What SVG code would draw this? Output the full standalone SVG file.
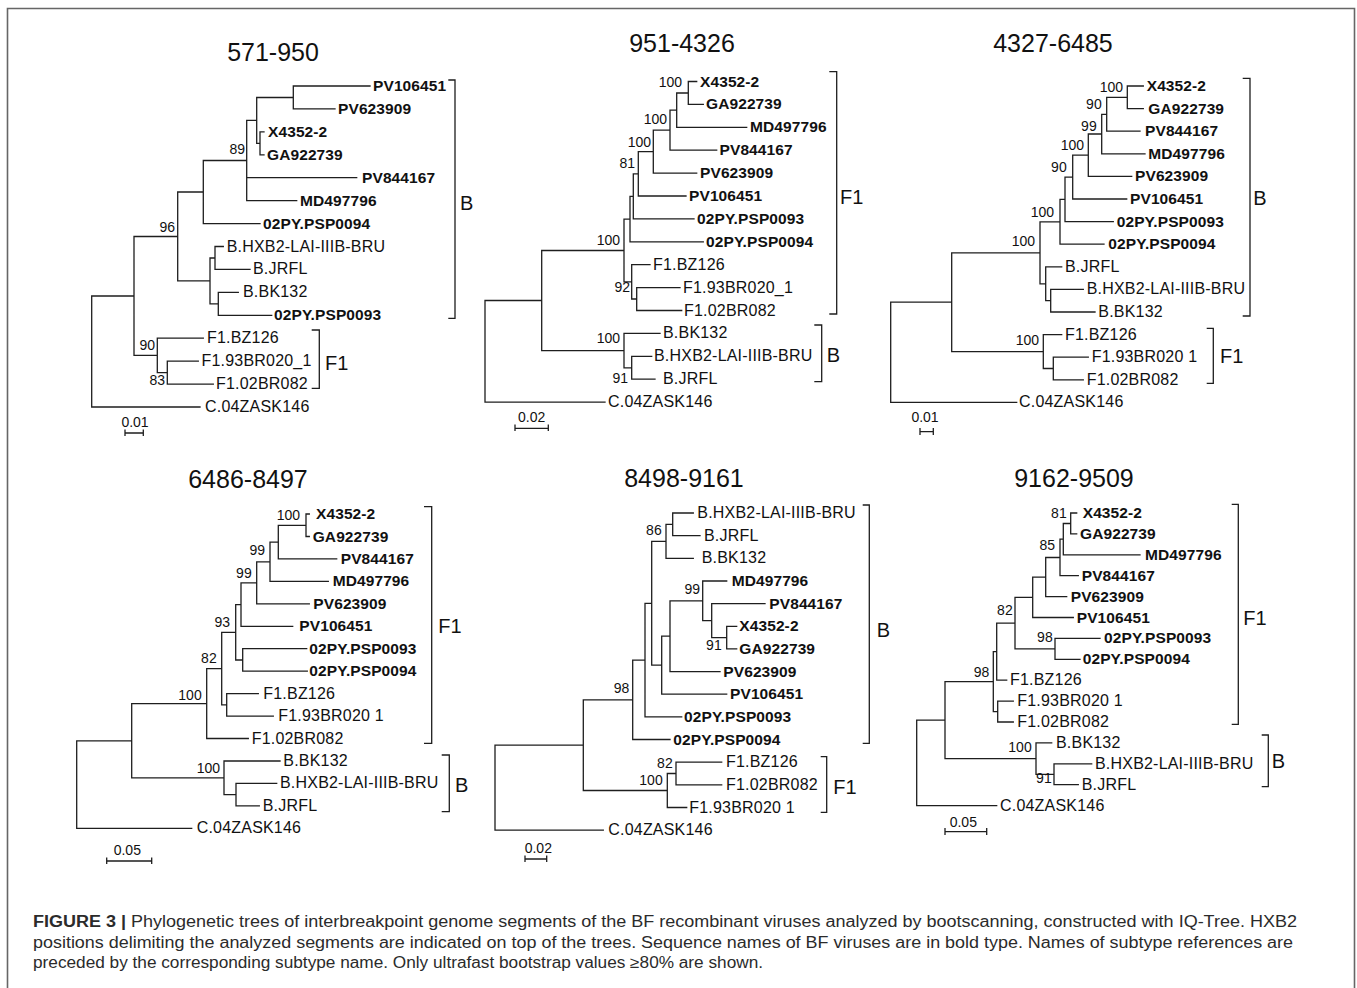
<svg xmlns="http://www.w3.org/2000/svg" width="1357" height="988" viewBox="0 0 1357 988">
<style>
.bg{fill:#fff}
.frame{fill:none;stroke:#666;stroke-width:1.6}
.br{fill:none;stroke:#1e1e1e;stroke-width:1.3;stroke-linecap:square}
.bk{fill:none;stroke:#1e1e1e;stroke-width:1.3}
text{font-family:"Liberation Sans",Arial,sans-serif;fill:#111}
.tt{font-size:25px;text-anchor:middle}
.lb{font-size:16px;letter-spacing:0.2px}
.bd{font-size:15.5px;font-weight:bold;letter-spacing:0.1px}
.bs{font-size:14px;text-anchor:end}
.cl{font-size:20px}
.sc{font-size:14px;text-anchor:middle}
.cap{font-size:16px;fill:#2b2b2b}
.capb{font-weight:bold}
</style>
<rect class="bg" x="0" y="0" width="1357" height="988"/>
<path class="frame" d="M7.5 990 V8.5 H1354.5 V990"/>

<!-- Tree 1: 571-950 -->
<g id="tree-571-950">
<text class="tt" x="273" y="61">571-950</text>
<g id="t1-connectors">
<path class="br" d="M370 86 H293.3 V108.9 H335 M264 131.9 H260 V154.8 H264 M293.3 97.5 H256.7 V143.4 H260 M256.7 120.4 H246.7 V200.6 H296.7 M246.7 177.7 H356.7 M246.7 160.5 H203.3 V223.6 H260 M223.3 246.5 H215 V269.4 H250 M238.3 292.4 H218.3 V315.3 H271.7 M215 258 H210 V303.8 H218.3 M203.3 192 H177.7 V280.9 H210 M198.3 361.2 H167.3 V384.1 H213.3 M203.3 338.2 H157.3 V372.6 H167.3 M177.7 236.5 H134 V355.4 H157.3 M134 296 H91.7 V407 H200"/>
<path class="bk" d="M448.3 80 H455 V318.3 H448.3 M311.7 330 H319.3 V388.3 H311.7"/>
<path class="bk" d="M125 429.5 V436 M125 433 H143.3 M143.3 429.5 V436"/>
</g>
<g id="t1-labels">
<text class="bd" x="373" y="91">PV106451</text>
<text class="bd" x="338" y="113.9">PV623909</text>
<text class="bd" x="268" y="136.9">X4352-2</text>
<text class="bd" x="267" y="159.8">GA922739</text>
<text class="bd" x="362" y="182.7">PV844167</text>
<text class="bd" x="300" y="205.6">MD497796</text>
<text class="bd" x="263" y="228.6">02PY.PSP0094</text>
<text class="lb" x="226.7" y="251.5">B.HXB2-LAI-IIIB-BRU</text>
<text class="lb" x="253" y="274.4">B.JRFL</text>
<text class="lb" x="243" y="297.4">B.BK132</text>
<text class="bd" x="274" y="320.3">02PY.PSP0093</text>
<text class="lb" x="207" y="343.2">F1.BZ126</text>
<text class="lb" x="201.5" y="366.2">F1.93BR020_1</text>
<text class="lb" x="216" y="389.1">F1.02BR082</text>
<text class="lb" x="205" y="412">C.04ZASK146</text>
<text class="bs" x="245" y="154">89</text>
<text class="bs" x="175" y="232">96</text>
<text class="bs" x="155" y="350">90</text>
<text class="bs" x="165" y="384.5">83</text>
<text class="cl" x="460" y="210">B</text>
<text class="cl" x="325" y="370">F1</text>
<text class="sc" x="135" y="427">0.01</text>
</g>
</g>

<!-- Tree 2: 951-4326 -->
<g id="tree-951-4326">
<text class="tt" x="682" y="52">951-4326</text>
<g id="t2-connectors">
<path class="br" d="M696.7 81.5 H688.3 V104.4 H703.3 M688.3 93 H676.7 V127.3 H746.7 M676.7 110.2 H670 V150.2 H716.7 M670 130.2 H653.3 V173.1 H696.7 M653.3 151.7 H638.3 V196 H686 M638.3 173.8 H633.3 V218.9 H694 M633.3 196.4 H630 V241.8 H703.3 M680 287.6 H636.7 V310.5 H681.7 M650 264.7 H631.7 V299 H636.7 M630 219.1 H624 V281.9 H631.7 M651.7 356.3 H631.7 V379.2 H655 M660 333.4 H624 V367.8 H631.7 M624 250.5 H541.7 V350.6 H624 M541.7 300.5 H485 V402.1 H605"/>
<path class="bk" d="M829.3 71.7 H836.7 V314 H829.3 M814.3 325 H821.7 V381.7 H814.3"/>
<path class="bk" d="M515 424.5 V431 M515 428.3 H548.3 M548.3 424.5 V431"/>
</g>
<g id="t2-labels">
<text class="bd" x="700" y="86.5">X4352-2</text>
<text class="bd" x="706" y="109.4">GA922739</text>
<text class="bd" x="750" y="132.3">MD497796</text>
<text class="bd" x="719.5" y="155.2">PV844167</text>
<text class="bd" x="700" y="178.1">PV623909</text>
<text class="bd" x="689" y="201">PV106451</text>
<text class="bd" x="697" y="223.9">02PY.PSP0093</text>
<text class="bd" x="706" y="246.8">02PY.PSP0094</text>
<text class="lb" x="653" y="269.7">F1.BZ126</text>
<text class="lb" x="683" y="292.6">F1.93BR020_1</text>
<text class="lb" x="684" y="315.5">F1.02BR082</text>
<text class="lb" x="663" y="338.4">B.BK132</text>
<text class="lb" x="654" y="361.3">B.HXB2-LAI-IIIB-BRU</text>
<text class="lb" x="663" y="384.2">B.JRFL</text>
<text class="lb" x="608" y="407.1">C.04ZASK146</text>
<text class="bs" x="682" y="87">100</text>
<text class="bs" x="667" y="123.5">100</text>
<text class="bs" x="651" y="146.5">100</text>
<text class="bs" x="635" y="168">81</text>
<text class="bs" x="620" y="245">100</text>
<text class="bs" x="630" y="292">92</text>
<text class="bs" x="620" y="343">100</text>
<text class="bs" x="628" y="383">91</text>
<text class="cl" x="840" y="204">F1</text>
<text class="cl" x="826.7" y="362">B</text>
<text class="sc" x="531.7" y="422">0.02</text>
</g>
</g>

<!-- Tree 3: 4327-6485 -->
<g id="tree-4327-6485">
<text class="tt" x="1053" y="52">4327-6485</text>
<g id="t3-connectors">
<path class="br" d="M1143.3 86 H1127.3 V108.6 H1143.3 M1127.3 97.3 H1106.7 V131.2 H1140 M1106.7 114.3 H1101.7 V153.8 H1145 M1101.7 134 H1088.3 V176.4 H1131.7 M1088.3 155.2 H1072.7 V199 H1126.7 M1072.7 177.1 H1065 V221.6 H1113.3 M1065 199.4 H1060 V244.2 H1104 M1083.3 289.4 H1050.7 V312 H1095 M1061.7 266.8 H1045.7 V300.7 H1050.7 M1060 221.8 H1040 V283.8 H1045.7 M1088.3 357.2 H1053.3 V379.8 H1083.3 M1061.7 334.6 H1043.3 V368.5 H1053.3 M1040 252.8 H951.7 V351.6 H1043.3 M951.7 302.2 H890.7 V402.4 H1016.7"/>
<path class="bk" d="M1242.7 78.3 H1250 V316 H1242.7 M1206.7 328.3 H1213.3 V383.3 H1206.7"/>
<path class="bk" d="M920 428 V435 M920 431.7 H933.3 M933.3 428 V435"/>
</g>
<g id="t3-labels">
<text class="bd" x="1146.7" y="91">X4352-2</text>
<text class="bd" x="1148.3" y="113.6">GA922739</text>
<text class="bd" x="1145" y="136.2">PV844167</text>
<text class="bd" x="1148.3" y="158.8">MD497796</text>
<text class="bd" x="1135" y="181.4">PV623909</text>
<text class="bd" x="1130" y="204">PV106451</text>
<text class="bd" x="1116.7" y="226.6">02PY.PSP0093</text>
<text class="bd" x="1108.3" y="249.2">02PY.PSP0094</text>
<text class="lb" x="1065" y="271.8">B.JRFL</text>
<text class="lb" x="1086.7" y="294.4">B.HXB2-LAI-IIIB-BRU</text>
<text class="lb" x="1098.3" y="317">B.BK132</text>
<text class="lb" x="1065" y="339.6">F1.BZ126</text>
<text class="lb" x="1091.7" y="362.2">F1.93BR020 1</text>
<text class="lb" x="1086.7" y="384.8">F1.02BR082</text>
<text class="lb" x="1019" y="407.4">C.04ZASK146</text>
<text class="bs" x="1123" y="91.5">100</text>
<text class="bs" x="1101.7" y="109">90</text>
<text class="bs" x="1096.7" y="131">99</text>
<text class="bs" x="1084" y="150">100</text>
<text class="bs" x="1066.7" y="171.7">90</text>
<text class="bs" x="1054" y="216.7">100</text>
<text class="bs" x="1035" y="246">100</text>
<text class="bs" x="1039" y="345">100</text>
<text class="cl" x="1253.3" y="205">B</text>
<text class="cl" x="1220" y="363">F1</text>
<text class="sc" x="925" y="421.7">0.01</text>
</g>
</g>

<!-- Tree 4: 6486-8497 -->
<g id="tree-6486-8497">
<text class="tt" x="248" y="488">6486-8497</text>
<g id="t4-connectors">
<path class="br" d="M309.3 514 H306 V536.5 H309.3 M306 525.3 H278.3 V558.9 H336.7 M278.3 542.1 H270 V581.4 H328.3 M270 561.8 H256.7 V603.8 H309.3 M256.7 582.8 H241 V626.3 H292.7 M306.7 648.7 H242.7 V671.2 H307.3 M241 604.6 H235.7 V660 H242.7 M258.3 693.6 H226.7 V716.1 H273.3 M235.7 632.3 H221.7 V704.9 H226.7 M221.7 668.6 H206.7 V738.5 H248.3 M276.7 783.4 H236 V805.9 H259.3 M280 761 H224 V794.7 H236 M206.7 703.6 H131.7 V777.9 H224 M131.7 740.8 H76.7 V828.3 H191.7"/>
<path class="bk" d="M424 506.7 H431.7 V743.3 H424 M441.7 755 H449.3 V811.7 H441.7"/>
<path class="bk" d="M106.7 857.5 V864 M106.7 861 H151.7 M151.7 857.5 V864"/>
</g>
<g id="t4-labels">
<text class="bd" x="316" y="519">X4352-2</text>
<text class="bd" x="312.7" y="541.5">GA922739</text>
<text class="bd" x="340.7" y="563.9">PV844167</text>
<text class="bd" x="332.7" y="586.4">MD497796</text>
<text class="bd" x="313.3" y="608.8">PV623909</text>
<text class="bd" x="299.3" y="631.3">PV106451</text>
<text class="bd" x="309.3" y="653.7">02PY.PSP0093</text>
<text class="bd" x="309.3" y="676.2">02PY.PSP0094</text>
<text class="lb" x="263.3" y="698.6">F1.BZ126</text>
<text class="lb" x="278.3" y="721.1">F1.93BR020 1</text>
<text class="lb" x="251.7" y="743.5">F1.02BR082</text>
<text class="lb" x="283.3" y="766">B.BK132</text>
<text class="lb" x="280" y="788.4">B.HXB2-LAI-IIIB-BRU</text>
<text class="lb" x="262.7" y="810.9">B.JRFL</text>
<text class="lb" x="196.7" y="833.3">C.04ZASK146</text>
<text class="bs" x="300" y="520">100</text>
<text class="bs" x="265" y="555">99</text>
<text class="bs" x="251.7" y="578">99</text>
<text class="bs" x="230" y="626.7">93</text>
<text class="bs" x="216.7" y="663">82</text>
<text class="bs" x="201.7" y="699.5">100</text>
<text class="bs" x="220" y="773">100</text>
<text class="cl" x="438.3" y="633">F1</text>
<text class="cl" x="455" y="792">B</text>
<text class="sc" x="127.3" y="855">0.05</text>
</g>
</g>

<!-- Tree 5: 8498-9161 -->
<g id="tree-8498-9161">
<text class="tt" x="684" y="487">8498-9161</text>
<g id="t5-connectors">
<path class="br" d="M693.3 513 H672.7 V535.7 H700 M672.7 524.4 H666 V558.3 H693.3 M736.7 626.3 H726.7 V648.9 H736.7 M765 603.6 H711.7 V637.6 H726.7 M726.7 581 H702.7 V620.6 H711.7 M702.7 600.8 H670 V671.6 H720 M670 636.2 H661.7 V694.2 H726.7 M666 541.4 H651.7 V665.2 H661.7 M651.7 603.3 H645 V716.9 H681.7 M645 660.1 H632.7 V739.5 H670 M721.7 762.2 H676 V784.8 H721.7 M676 773.5 H667.3 V807.5 H686.7 M632.7 699.8 H583.3 V790.5 H667.3 M583.3 745.2 H495 V830.1 H603.3"/>
<path class="bk" d="M862.7 505 H869.3 V743.3 H862.7 M820.7 756.7 H826.7 V812.3 H820.7"/>
<path class="bk" d="M525 855.5 V862 M525 859 H546.7 M546.7 855.5 V862"/>
</g>
<g id="t5-labels">
<text class="lb" x="697.3" y="518">B.HXB2-LAI-IIIB-BRU</text>
<text class="lb" x="704" y="540.7">B.JRFL</text>
<text class="lb" x="701.7" y="563.3">B.BK132</text>
<text class="bd" x="731.7" y="586">MD497796</text>
<text class="bd" x="769.3" y="608.6">PV844167</text>
<text class="bd" x="739.3" y="631.3">X4352-2</text>
<text class="bd" x="739.3" y="653.9">GA922739</text>
<text class="bd" x="723.3" y="676.6">PV623909</text>
<text class="bd" x="730" y="699.2">PV106451</text>
<text class="bd" x="684" y="721.9">02PY.PSP0093</text>
<text class="bd" x="673.3" y="744.5">02PY.PSP0094</text>
<text class="lb" x="726" y="767.2">F1.BZ126</text>
<text class="lb" x="726" y="789.8">F1.02BR082</text>
<text class="lb" x="689.3" y="812.5">F1.93BR020 1</text>
<text class="lb" x="608.3" y="835.1">C.04ZASK146</text>
<text class="bs" x="661.7" y="535">86</text>
<text class="bs" x="700" y="594.3">99</text>
<text class="bs" x="721.7" y="650">91</text>
<text class="bs" x="629.3" y="693.3">98</text>
<text class="bs" x="672.7" y="768.3">82</text>
<text class="bs" x="662.7" y="785">100</text>
<text class="cl" x="876.7" y="637">B</text>
<text class="cl" x="833.3" y="793.5">F1</text>
<text class="sc" x="538.3" y="853.3">0.02</text>
</g>
</g>

<!-- Tree 6: 9162-9509 -->
<g id="tree-9162-9509">
<text class="tt" x="1074" y="487">9162-9509</text>
<g id="t6-connectors">
<path class="br" d="M1076.7 513 H1070.7 V533.9 H1076.7 M1070.7 523.5 H1063.3 V554.8 H1140 M1063.3 539.2 H1060 V575.7 H1078.3 M1060 557.5 H1045.7 V596.6 H1066.7 M1045.7 577.1 H1032.7 V617.5 H1073.3 M1100 638.4 H1055 V659.3 H1080 M1032.7 597.3 H1015 V648.9 H1055 M1015 623.1 H996.7 V680.2 H1006.7 M1013.3 701.1 H997.7 V722 H1013.3 M996.7 651.7 H993.3 V711.6 H997.7 M1091.7 763.8 H1054 V784.7 H1078.3 M1051.7 742.9 H1036 V774.3 H1054 M993.3 681.7 H945 V758.6 H1036 M945 720.2 H916.7 V805.6 H996.7"/>
<path class="bk" d="M1231.7 504.3 H1238.3 V724.3 H1231.7 M1261.7 735 H1268.3 V786.7 H1261.7"/>
<path class="bk" d="M945 828 V835 M945 831.7 H986.7 M986.7 828 V835"/>
</g>
<g id="t6-labels">
<text class="bd" x="1082.7" y="518">X4352-2</text>
<text class="bd" x="1080" y="538.9">GA922739</text>
<text class="bd" x="1145" y="559.8">MD497796</text>
<text class="bd" x="1081.7" y="580.7">PV844167</text>
<text class="bd" x="1070.7" y="601.6">PV623909</text>
<text class="bd" x="1076.7" y="622.5">PV106451</text>
<text class="bd" x="1104" y="643.4">02PY.PSP0093</text>
<text class="bd" x="1082.7" y="664.3">02PY.PSP0094</text>
<text class="lb" x="1010" y="685.2">F1.BZ126</text>
<text class="lb" x="1017.3" y="706.1">F1.93BR020 1</text>
<text class="lb" x="1017.3" y="727">F1.02BR082</text>
<text class="lb" x="1056" y="747.9">B.BK132</text>
<text class="lb" x="1095" y="768.8">B.HXB2-LAI-IIIB-BRU</text>
<text class="lb" x="1081.7" y="789.7">B.JRFL</text>
<text class="lb" x="1000" y="810.6">C.04ZASK146</text>
<text class="bs" x="1066.7" y="517.7">81</text>
<text class="bs" x="1055" y="550">85</text>
<text class="bs" x="1012.7" y="615">82</text>
<text class="bs" x="1052.7" y="641.7">98</text>
<text class="bs" x="989.3" y="676.7">98</text>
<text class="bs" x="1031.7" y="751.7">100</text>
<text class="bs" x="1051.7" y="783.3">91</text>
<text class="cl" x="1243.3" y="625">F1</text>
<text class="cl" x="1271.7" y="768">B</text>
<text class="sc" x="963.3" y="826.7">0.05</text>
</g>
</g>

<!-- Caption -->
<g id="caption">
<text class="cap" x="33" y="927" textLength="1264" lengthAdjust="spacingAndGlyphs"><tspan class="capb">FIGURE 3 |</tspan> Phylogenetic trees of interbreakpoint genome segments of the BF recombinant viruses analyzed by bootscanning, constructed with IQ-Tree. HXB2</text>
<text class="cap" x="33" y="947.5" textLength="1260" lengthAdjust="spacingAndGlyphs">positions delimiting the analyzed segments are indicated on top of the trees. Sequence names of BF viruses are in bold type. Names of subtype references are</text>
<text class="cap" x="33" y="968" textLength="730" lengthAdjust="spacingAndGlyphs">preceded by the corresponding subtype name. Only ultrafast bootstrap values ≥80% are shown.</text>
</g>
</svg>
